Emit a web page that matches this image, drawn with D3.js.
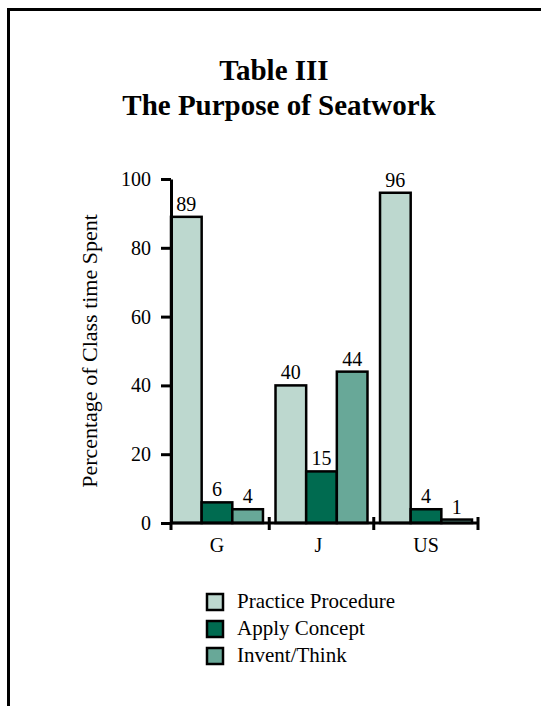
<!DOCTYPE html>
<html>
<head>
<meta charset="utf-8">
<script src="https://cdn.jsdelivr.net/npm/d3@7"></script>
<style>
  html, body { margin: 0; padding: 0; background: #fff; }
  svg { display: block; }
  text { font-family: "Liberation Serif", "Times New Roman", serif; fill: #000; }
</style>
</head>
<body>
<svg id="chart" width="541" height="706"></svg>
<script>
// Seatwork purpose by country (percent of class time)
const countries = ["G", "J", "US"];
const purposes = ["Practice Procedure", "Apply Concept", "Invent/Think"];
const practiceProcedure = [89, 40, 96];
const applyConcept = [6, 15, 4];
const inventThink = [4, 44, 1];
const yTicks = [0, 20, 40, 60, 80, 100];
const colors = ["#bdd8cf", "#006b50", "#68a898"];

const seriesValues = [practiceProcedure, applyConcept, inventThink];

const svg = d3.select("#chart");

// outer frame (left and top edges)
svg.append("path")
  .attr("d", "M8.5,706 V9.5 H541")
  .attr("fill", "none")
  .attr("stroke", "#000")
  .attr("stroke-width", 3);

// title
svg.append("text")
  .attr("x", 274).attr("y", 80)
  .attr("text-anchor", "middle")
  .attr("font-weight", "bold")
  .attr("font-size", 29)
  .text("Table III");
svg.append("text")
  .attr("x", 279).attr("y", 115)
  .attr("text-anchor", "middle")
  .attr("font-weight", "bold")
  .attr("font-size", 29)
  .text("The Purpose of Seatwork");

// scales
const y = d3.scaleLinear().domain([0, 100]).range([523, 179]);
const x0 = d3.scaleBand().domain(countries).range([171, 472]).paddingInner(0.12).paddingOuter(0);
const x1 = d3.scaleBand().domain(purposes).range([0, x0.bandwidth()]).padding(0);

// bars
const groups = svg.append("g").selectAll("g")
  .data(countries)
  .join("g")
  .attr("transform", d => `translate(${x0(d)},0)`);

groups.selectAll("rect")
  .data((c, ci) => purposes.map((p, pi) => ({ purpose: p, value: seriesValues[pi][ci], color: colors[pi] })))
  .join("rect")
  .attr("x", d => x1(d.purpose))
  .attr("y", d => y(d.value))
  .attr("width", x1.bandwidth())
  .attr("height", d => y(0) - y(d.value))
  .attr("fill", d => d.color)
  .attr("stroke", "#000")
  .attr("stroke-width", 2.5);

// value labels
groups.selectAll("text.val")
  .data((c, ci) => purposes.map((p, pi) => ({ purpose: p, value: seriesValues[pi][ci] })))
  .join("text")
  .attr("class", "val")
  .attr("x", d => x1(d.purpose) + x1.bandwidth() / 2)
  .attr("y", d => y(d.value) - 6)
  .attr("text-anchor", "middle")
  .attr("font-size", 20)
  .text(d => d.value);

// y axis
const yAxis = svg.append("g")
  .attr("transform", "translate(171,0)")
  .call(d3.axisLeft(y).tickValues(yTicks).tickSize(10).tickPadding(10).tickSizeOuter(0));
yAxis.select(".domain").attr("stroke", "#000").attr("stroke-width", 3);
yAxis.selectAll(".tick line").attr("stroke", "#000").attr("stroke-width", 3);
yAxis.selectAll(".tick text")
  .attr("font-family", "'Liberation Serif', 'Times New Roman', serif")
  .attr("font-size", 20)
  .attr("fill", "#000");

// x axis line with category separators
const xEnd = 478;
svg.append("line")
  .attr("x1", 171).attr("x2", xEnd)
  .attr("y1", y(0)).attr("y2", y(0))
  .attr("stroke", "#000").attr("stroke-width", 3);

const sepPositions = [171];
for (let i = 0; i < countries.length - 1; i++) {
  const endA = x0(countries[i]) + x0.bandwidth();
  const startB = x0(countries[i + 1]);
  sepPositions.push((endA + startB) / 2);
}
sepPositions.push(xEnd);

svg.append("g").selectAll("line")
  .data(sepPositions)
  .join("line")
  .attr("x1", d => d).attr("x2", d => d)
  .attr("y1", (d, i) => i === 0 ? y(0) : y(0) - 6)
  .attr("y2", y(0) + 7)
  .attr("stroke", "#000").attr("stroke-width", 3);

// category labels
svg.append("g").selectAll("text")
  .data(countries)
  .join("text")
  .attr("x", d => x0(d) + x0.bandwidth() / 2 + (d === "J" ? -3 : 0))
  .attr("y", 552)
  .attr("text-anchor", "middle")
  .attr("font-size", 20)
  .text(d => d);

// y axis title
svg.append("text")
  .attr("transform", "translate(97,351) rotate(-90)")
  .attr("text-anchor", "middle")
  .attr("font-size", 22)
  .text("Percentage of Class time Spent");

// legend
const legend = svg.append("g").selectAll("g")
  .data(purposes)
  .join("g")
  .attr("transform", (d, i) => `translate(207,${594 + i * 27})`);
legend.append("rect")
  .attr("width", 16).attr("height", 16)
  .attr("fill", (d, i) => colors[i])
  .attr("stroke", "#000")
  .attr("stroke-width", 2.5);
legend.append("text")
  .attr("x", 30).attr("y", 14)
  .attr("font-size", 21)
  .text(d => d);
</script>
</body>
</html>
